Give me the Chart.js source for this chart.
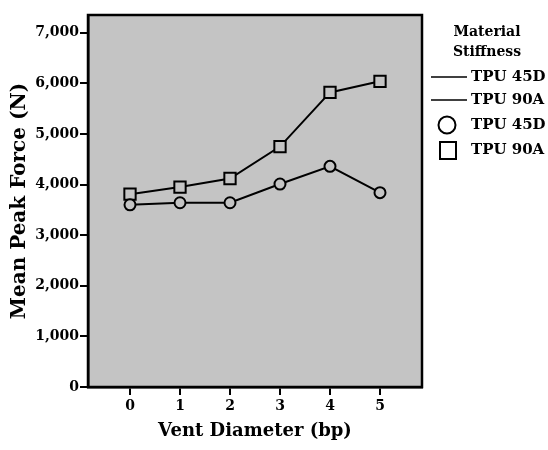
<!DOCTYPE html>
<html>
<head>
<meta charset="utf-8">
<script src="https://cdn.jsdelivr.net/npm/chart.js@4/dist/chart.umd.min.js"></script>
<style>
  html, body { margin: 0; padding: 0; background: #fff; }
  #wrap { width: 548px; height: 450px; position: relative; }
</style>
</head>
<body>
<div id="wrap"><canvas id="grafico"></canvas></div>
<script>
// Datos
const diametros = [0, 1, 2, 3, 4, 5];
const tpu45D = [3600, 3640, 3640, 4010, 4360, 3840];
const tpu90A = [3810, 3950, 4120, 4750, 5820, 6040];
const ticksY = [0, 1000, 2000, 3000, 4000, 5000, 6000, 7000];

const serif = '"DejaVu Serif", "Liberation Serif", serif';
const fondo = '#c4c4c4';

// Fondo gris y marco del área de trazado
const marcoPlugin = {
  id: 'marco',
  beforeDraw(chart) {
    const a = chart.chartArea;
    const c = chart.ctx;
    c.save();
    c.fillStyle = fondo;
    c.fillRect(a.left, a.top, a.right - a.left, a.bottom - a.top);
    c.restore();
  },
  afterDatasetsDraw(chart) {
    const a = chart.chartArea;
    const c = chart.ctx;
    c.save();
    c.strokeStyle = '#000';
    c.lineWidth = 2.5;
    c.strokeRect(a.left, a.top, a.right - a.left, a.bottom - a.top);
    c.restore();
  }
};

// Leyenda a la derecha
const leyendaPlugin = {
  id: 'leyenda',
  afterDraw(chart) {
    const c = chart.ctx;
    c.save();
    c.fillStyle = '#000';
    c.strokeStyle = '#000';
    c.font = 'bold 14px ' + serif;
    c.textAlign = 'center';
    c.textBaseline = 'middle';
    c.fillText('Material', 487, 32);
    c.fillText('Stiffness', 487, 52);

    c.textAlign = 'left';
    c.font = 'bold 15px ' + serif;
    c.lineWidth = 1.5;
    c.beginPath(); c.moveTo(431, 77); c.lineTo(467, 77); c.stroke();
    c.fillText('TPU 45D', 471, 77);
    c.beginPath(); c.moveTo(431, 100); c.lineTo(467, 100); c.stroke();
    c.fillText('TPU 90A', 471, 100);

    c.lineWidth = 2;
    c.beginPath(); c.arc(447, 125, 8.5, 0, Math.PI * 2); c.stroke();
    c.fillText('TPU 45D', 471, 125);
    c.strokeRect(440, 142, 16, 17);
    c.fillText('TPU 90A', 471, 150);
    c.restore();
  }
};

const config = {
  type: 'line',
  data: {
    datasets: [
      {
        label: 'TPU 45D',
        data: diametros.map((d, i) => ({ x: d, y: tpu45D[i] })),
        borderColor: '#000',
        borderWidth: 2,
        pointStyle: 'circle',
        pointRadius: 5.5,
        pointBorderWidth: 2,
        pointBackgroundColor: fondo,
        pointBorderColor: '#000'
      },
      {
        label: 'TPU 90A',
        data: diametros.map((d, i) => ({ x: d, y: tpu90A[i] })),
        borderColor: '#000',
        borderWidth: 2,
        pointStyle: 'rect',
        pointRadius: 8,
        pointBorderWidth: 2,
        pointBackgroundColor: fondo,
        pointBorderColor: '#000'
      }
    ]
  },
  options: {
    responsive: false,
    animation: false,
    layout: { padding: { top: 15, right: 126, left: 0, bottom: 0 } },
    plugins: {
      legend: { display: false },
      tooltip: { enabled: false }
    },
    scales: {
      x: {
        type: 'linear',
        min: -0.84,
        max: 5.84,
        afterBuildTicks: s => { s.ticks = diametros.map(v => ({ value: v })); },
        afterFit: s => { s.height = 63; },
        grid: { display: true, drawOnChartArea: false, drawTicks: true, tickLength: 8, color: '#000', lineWidth: 2 },
        border: { display: true, color: '#000', width: 2.5 },
        ticks: {
          color: '#000',
          padding: 3,
          font: { family: serif, size: 14, weight: 'bold' }
        },
        title: {
          display: true,
          text: 'Vent Diameter (bp)',
          color: '#000',
          padding: { top: 0, bottom: 8 },
          font: { family: serif, size: 18, weight: 'bold' }
        }
      },
      y: {
        min: 0,
        max: 7350,
        afterBuildTicks: s => { s.ticks = ticksY.map(v => ({ value: v })); },
        afterFit: s => { s.width = 88; },
        grid: { display: true, drawOnChartArea: false, drawTicks: true, tickLength: 8, color: '#000', lineWidth: 2 },
        border: { display: true, color: '#000', width: 2.5 },
        ticks: {
          color: '#000',
          padding: 1,
          font: { family: serif, size: 14, weight: 'bold' },
          callback: v => v.toLocaleString('en-US')
        },
        title: {
          display: true,
          text: 'Mean Peak Force (N)',
          color: '#000',
          padding: { top: 8, bottom: 4 },
          font: { family: serif, size: 20, weight: 'bold' }
        }
      }
    }
  },
  plugins: [marcoPlugin, leyendaPlugin]
};

const canvas = document.getElementById('grafico');
canvas.width = 548;
canvas.height = 450;
new Chart(canvas, config);
</script>
</body>
</html>
